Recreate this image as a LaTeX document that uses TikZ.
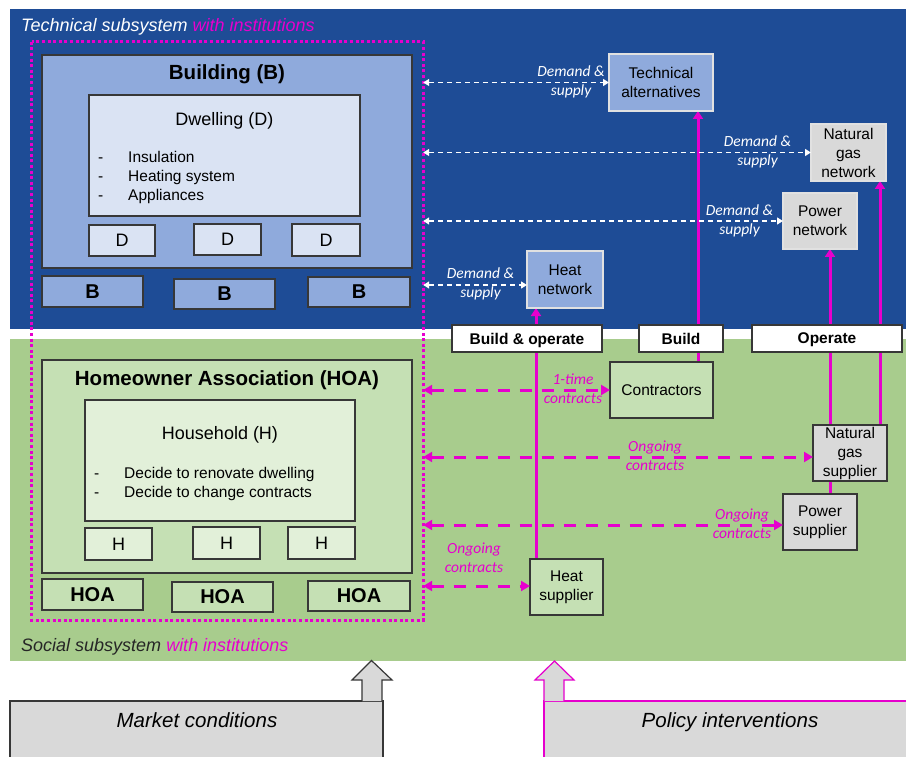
\documentclass[tikz,border=0pt]{standalone}
\usepackage{fontspec}
\setmainfont{Liberation Sans}
\newfontfamily\labfont{Carlito}
\usetikzlibrary{arrows.meta,fit}
\definecolor{techblue}{RGB}{30,76,150}
\definecolor{bmid}{RGB}{143,170,220}
\definecolor{blight}{RGB}{218,227,243}
\definecolor{greenbg}{RGB}{168,204,141}
\definecolor{gmid}{RGB}{197,224,180}
\definecolor{glight}{RGB}{226,240,217}
\definecolor{grayfill}{RGB}{217,217,217}
\definecolor{mag}{RGB}{230,0,205}
\definecolor{frame}{RGB}{55,55,55}
\definecolor{lightframe}{RGB}{225,225,225}
\pgfdeclarelayer{bg}
\pgfdeclarelayer{lines}
\pgfsetlayers{bg,lines,main}
\tikzset{
  rect/.style={inner sep=0pt, outer sep=0pt, draw=frame, line width=1.3pt, align=center,
    font=\fontsize{15.5}{19}\selectfont},
  darkbox/.style={rect},
  lightbox/.style={rect, draw=lightframe},
  tagbox/.style={rect, fill=white, text depth=0pt, font=\bfseries\fontsize{15.5}{19}\selectfont},
  smallD/.style={rect, fill=blight, text depth=0pt, font=\fontsize{18}{20}\selectfont},
  smallB/.style={rect, fill=bmid, text depth=0pt, font=\bfseries\fontsize{20}{22}\selectfont},
  smallH/.style={rect, fill=glight, text depth=0pt, font=\fontsize{18}{20}\selectfont},
  smallHOA/.style={rect, fill=gmid, text depth=0pt, font=\bfseries\fontsize{20}{22}\selectfont},
  wh/.style 2 args={minimum width=#1pt, minimum height=#2pt},
  headtxt/.style={anchor=base, inner sep=0pt, font=\bfseries\fontsize{20.5}{24}\selectfont},
  subtxt/.style={anchor=base, inner sep=0pt, font=\fontsize{18}{20}\selectfont},
  listtxt/.style={anchor=base west, inner sep=0pt, font=\fontsize{15.5}{19}\selectfont},
  syslabel/.style={anchor=base west, inner sep=0pt, font=\itshape\fontsize{18}{20}\selectfont},
  wlabel/.style={align=center, inner sep=0pt, text=white, font=\labfont\itshape\fontsize{15.5}{19}\selectfont},
  mlabel/.style={align=center, inner sep=0pt, text=mag, font=\labfont\itshape\fontsize{15.5}{19}\selectfont},
  wdash/.style={draw=white, line width=1.3pt, dash pattern=on 5pt off 4pt,
    {Triangle[length=6pt,width=7pt]}-{Triangle[length=6pt,width=7pt]}},
  mdash/.style={draw=mag, line width=3pt, dash pattern=on 12pt off 10pt,
    {Triangle[length=9pt,width=10pt]}-{Triangle[length=9pt,width=10pt]}},
  mline/.style={draw=mag, line width=3pt, -{Triangle[length=8pt,width=10pt]}},
  dotframe/.style={draw=mag, line width=3pt, dash pattern=on 3pt off 2.6pt},
  bottomtxt/.style={anchor=base, inner sep=0pt, font=\itshape\fontsize{20.5}{24}\selectfont},
}
\begin{document}
\begin{tikzpicture}[x=1pt,y=-1pt]
\useasboundingbox (0,0) rectangle (906,757);

% subsystem backgrounds
\begin{pgfonlayer}{bg}
\fill[white] (0,0) rectangle (906,757);
\node[fit={(10,9) (906,329)}, inner sep=0pt, fill=techblue] (techsys) {};
\node[fit={(10,339) (906,661)}, inner sep=0pt, fill=greenbg] (socsys) {};
\end{pgfonlayer}

\node[syslabel, text=white] (techlab) at (21,32) {Technical subsystem \textcolor{mag}{with institutions}};
\node[syslabel, text=black!85] (soclab) at (21,651.5) {Social subsystem \textcolor{mag}{with institutions}};

% building side
\node[darkbox, fill=bmid, wh={370}{213}] (building) at (227,161.5) {};
\node[headtxt] (buildingtxt) at (227,80) {Building (B)};
\node[darkbox, fill=blight, wh={271}{121}] (dwelling) at (224.5,155.5) {};
\node[subtxt] (dwellingtxt) at (224.5,126) {Dwelling (D)};
\node[listtxt] (dl1) at (98,163) {\makebox[30pt][l]{-}Insulation};
\node[listtxt] (dl2) at (98,182) {\makebox[30pt][l]{-}Heating system};
\node[listtxt] (dl3) at (98,201) {\makebox[30pt][l]{-}Appliances};
\node[smallD, wh={66}{31}] (d1) at (122,240.5) {D};
\node[smallD, wh={67}{31}] (d2) at (227.5,239.5) {D};
\node[smallD, wh={68}{32}] (d3) at (326,240) {D};
\node[smallB, wh={101}{31}] (b1) at (92.5,291.5) {B};
\node[smallB, wh={101}{30}] (b2) at (224.5,294) {B};
\node[smallB, wh={102}{30}] (b3) at (359,292) {B};

% household side
\node[darkbox, fill=gmid, wh={370}{213}] (hoa) at (227,466.5) {};
\node[headtxt] (hoatxt) at (227,385) {Homeowner Association (HOA)};
\node[darkbox, fill=glight, wh={270}{121}] (household) at (220,460.5) {};
\node[subtxt] (householdtxt) at (220,439.5) {Household (H)};
\node[listtxt] (hl1) at (94,478) {\makebox[30pt][l]{-}Decide to renovate dwelling};
\node[listtxt] (hl2) at (94,497) {\makebox[30pt][l]{-}Decide to change contracts};
\node[smallH, wh={67}{32}] (h1) at (118.5,544) {H};
\node[smallH, wh={67}{32}] (h2) at (226.5,543) {H};
\node[smallH, wh={67}{32}] (h3) at (321.5,543) {H};
\node[smallHOA, wh={101}{31}] (hoa1) at (92.5,594.5) {HOA};
\node[smallHOA, wh={101}{30}] (hoa2) at (222.5,597) {HOA};
\node[smallHOA, wh={102}{30}] (hoa3) at (359,596) {HOA};

% institutions frame
\node[fit={(32,42) (423,620)}, inner sep=0pt] (inst) {};
\draw[dotframe] (inst.north west) rectangle (inst.south east);

% technical elements
\node[lightbox, fill=bmid, wh={104}{57}] (tech) at (661,82.5) {Technical\\alternatives};
\node[lightbox, fill=grayfill, wh={75}{57}] (gasnet) at (848.5,152.5) {Natural\\gas\\network};
\node[lightbox, fill=grayfill, wh={74}{56}] (pownet) at (820,221) {Power\\network};
\node[lightbox, fill=bmid, wh={76}{57}] (heatnet) at (565,279.5) {Heat\\network};

% social actors
\node[darkbox, fill=gmid, wh={103}{56}] (contr) at (661.5,390) {Contractors};
\node[darkbox, fill=grayfill, wh={74}{56}] (gassup) at (850,453) {Natural\\gas\\supplier};
\node[darkbox, fill=grayfill, wh={74}{56}] (powsup) at (820,522) {Power\\supplier};
\node[darkbox, fill=gmid, wh={73}{56}] (heatsup) at (566.5,587) {Heat\\supplier};

% vertical build / operate links
\coordinate (xT) at (698,0);
\coordinate (xG) at (880,0);
\coordinate (xP) at (830,0);
\coordinate (xH) at (536,0);
\begin{pgfonlayer}{lines}
\draw[mline] (contr.north -| xT) -- (tech.south -| xT);
\draw[mline] (gassup.north -| xG) -- (gasnet.south -| xG);
\draw[mline] (powsup.north -| xP) -- (pownet.south -| xP);
\draw[mline] (heatsup.north -| xH) -- (heatnet.south -| xH);
\end{pgfonlayer}

\node[tagbox, wh={150}{27}] (buildop) at (527,338.5) {Build \& operate};
\node[tagbox, wh={84}{27}] (buildtag) at (681,338.5) {Build};
\node[tagbox, wh={150}{27}] (optag) at (827,338.5) {Operate};

% arrow end points
\coordinate (hnE) at ([yshift=-5.5pt]heatnet.west);
\coordinate (gsE) at ([yshift=-4pt]gassup.west);
\coordinate (psE) at ([yshift=-3pt]powsup.west);
\coordinate (hsE) at ([yshift=1pt]heatsup.west);

% demand & supply
\draw[wdash] (inst.east |- tech.west) -- (tech.west);
\draw[wdash] (inst.east |- gasnet.west) -- (gasnet.west);
\draw[wdash] (inst.east |- pownet.west) -- (pownet.west);
\draw[wdash] (inst.east |- hnE) -- (hnE);
\node[wlabel] (ds1) at (571,82) {Demand \&\\supply};
\node[wlabel] (ds2) at (757.5,152) {Demand \&\\supply};
\node[wlabel] (ds3) at (739.5,221) {Demand \&\\supply};
\node[wlabel] (ds4) at (480.5,284) {Demand \&\\supply};

% contracts
\draw[mdash] (inst.east |- contr.west) -- (contr.west);
\draw[mdash] (inst.east |- gsE) -- (gsE);
\draw[mdash] (inst.east |- psE) -- (psE);
\draw[mdash] (inst.east |- hsE) -- (hsE);
\node[mlabel] (c1) at (573,389) {1-time\\contracts};
\node[mlabel] (c2) at (655,456) {Ongoing\\contracts};
\node[mlabel] (c3) at (742,524) {Ongoing\\contracts};
\node[mlabel] (c4) at (474,558) {Ongoing\\contracts};

% external drivers
\begin{scope}
\clip (0,0) rectangle (906,757);
\node[fit={(10,701) (383,775)}, inner sep=0pt, fill=grayfill, draw=frame, line width=1.2pt] (market) {};
\node[fit={(544,701) (925,775)}, inner sep=0pt, fill=grayfill, draw=mag, line width=1.2pt] (policy) {};
\end{scope}
\node[bottomtxt] (markettxt) at (197,727) {Market conditions};
\node[bottomtxt] (policytxt) at (730,727) {Policy interventions};
\filldraw[fill=grayfill, draw=frame, line width=1.2pt, line join=miter]
  (362,701) -- (362,680) -- (352,680) -- (371.5,660.5) -- (392,680) -- (382,680) -- (382,701);
\filldraw[fill=grayfill, draw=mag, line width=1.2pt, line join=miter]
  (544,701) -- (544,680) -- (535,680) -- (554.5,661) -- (574,680) -- (564,680) -- (564,701);
\end{tikzpicture}
\end{document}
